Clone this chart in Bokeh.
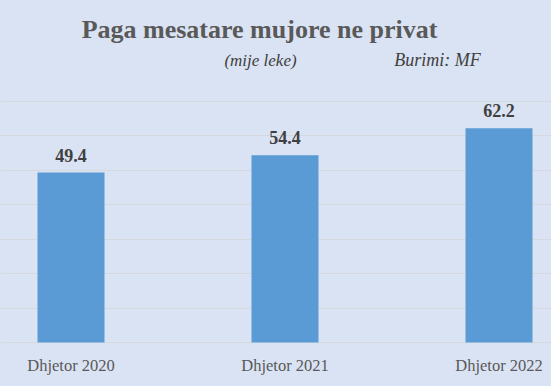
from bokeh.plotting import figure
from bokeh.models import ColumnDataSource, Range1d, FixedTicker, Label
from bokeh.embed import file_html
from bokeh.resources import INLINE
from bokeh.core.properties import value

categories = ["Dhjetor 2020", "Dhjetor 2021", "Dhjetor 2022"]
values = [49.4, 54.4, 62.2]
value_labels = ["49.4", "54.4", "62.2"]
grid_ticks = [0, 10, 20, 30, 40, 50, 60, 70]

BG = "#dae3f3"
BAR = "#5b9bd5"
FONT = "Liberation Serif"

W, H = 551, 386
PX_PER_X = 214.0
X0 = 70.5          # pixel of first category centre
PX_PER_Y = 3.443
Y0 = 342.0         # pixel of baseline

def vx(px):
    return (px - X0) / PX_PER_X

def vy(py):
    return (Y0 - py) / PX_PER_Y

xs = list(range(len(categories)))
src = ColumnDataSource(dict(x=xs, top=values, lab=value_labels, cat=categories, zero=[0] * len(xs)))

p = figure(width=W, height=H, output_backend="svg", toolbar_location=None,
           x_range=Range1d(vx(0), vx(W)), y_range=Range1d(vy(H), vy(0)),
           min_border=0, min_border_left=0, min_border_right=0,
           min_border_top=0, min_border_bottom=0,
           background_fill_color=BG, border_fill_color=BG, outline_line_color=None)
p.xaxis.visible = False
p.yaxis.visible = False
p.xgrid.visible = False
p.ygrid.ticker = FixedTicker(ticks=grid_ticks)
p.ygrid.grid_line_color = "#d5d8dd"
p.ygrid.grid_line_width = 1

p.vbar(x="x", top="top", bottom=0, width=67 / PX_PER_X, source=src, fill_color=BAR, line_color=None)

p.text(x="x", y="top", text="lab", source=src, text_font=value(FONT), text_font_size="18px",
       text_font_style="bold", text_color="#404040", text_align="center",
       text_baseline="middle", y_offset=-17.4)

p.text(x="x", y="zero", text="cat", source=src, text_font=value(FONT), text_font_size="16.5px",
       text_color="#595959", text_align="center", text_baseline="middle", y_offset=23.3)

title = Label(x=vx(259), y=vy(28.5), text="Paga mesatare mujore ne privat", text_font=FONT,
              text_font_size="26px", text_font_style="bold", text_color="#595959",
              text_align="center", text_baseline="middle")
sub1 = Label(x=vx(260), y=vy(59.5), text="(mije leke)", text_font=FONT,
             text_font_size="17px", text_font_style="italic", text_color="#404040",
             text_align="center", text_baseline="middle")
sub2 = Label(x=vx(437), y=vy(59.5), text="Burimi: MF", text_font=FONT,
             text_font_size="18px", text_font_style="italic", text_color="#404040",
             text_align="center", text_baseline="middle")
for lab in (title, sub1, sub2):
    p.add_layout(lab)

open("out.html", "w").write(file_html(p, INLINE).replace("<body>", '<body style="background:#dae3f3">'))
